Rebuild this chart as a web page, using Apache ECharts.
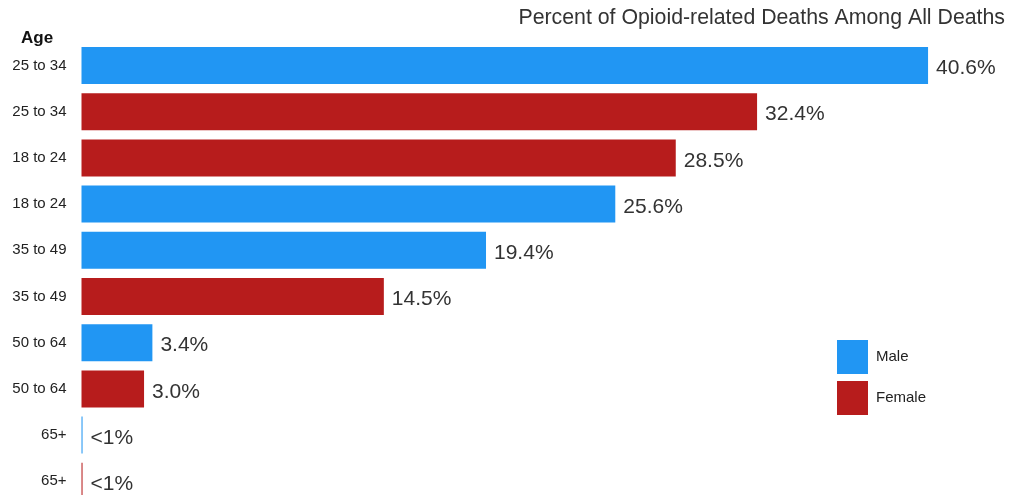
<!DOCTYPE html>
<html>
<head>
<meta charset="utf-8">
<script src="https://cdn.jsdelivr.net/npm/echarts@6/dist/echarts.min.js"></script>
<style>
html,body{margin:0;padding:0;background:#fff;}
#chart{width:1021px;height:495px;}
</style>
</head>
<body>
<div id="chart"></div>
<script>
const ages = ['25 to 34','25 to 34','18 to 24','18 to 24','35 to 49','35 to 49','50 to 64','50 to 64','65+','65+'];
const sexes = ['Male','Female','Female','Male','Male','Female','Male','Female','Male','Female'];
const values = [40.6, 32.4, 28.5, 25.6, 19.4, 14.5, 3.4, 3.0, 0.05, 0.05];
const valueLabels = ['40.6%','32.4%','28.5%','25.6%','19.4%','14.5%','3.4%','3.0%','<1%','<1%'];
const seriesNames = ['Male','Female'];
const colors = {Male:'#2196F3', Female:'#B71C1C'};

const chart = echarts.init(document.getElementById('chart'));
const series = seriesNames.map(name => ({
  name: name,
  type: 'bar',
  stack: 'all',
  barCategoryGap: '20%',
  itemStyle: {color: colors[name]},
  label: {
    show: true,
    position: 'right',
    distance: 8,
    offset: [0, 3],
    fontSize: 21,
    fontFamily: 'Liberation Sans, Arial, sans-serif',
    color: '#333',
    formatter: p => valueLabels[p.dataIndex]
  },
  data: values.map((v, i) => sexes[i] === name ? v : '-')
}));

chart.setOption({
  animation: false,
  textStyle: {fontFamily: 'Liberation Sans, Arial, sans-serif'},
  title: [
    {text: 'Percent of Opioid-related Deaths Among All Deaths', right: 11, top: 3,
     textStyle: {fontSize: 21.3, fontWeight: 'normal', color: '#333', fontFamily: 'Liberation Sans, Arial, sans-serif'}},
    {text: 'Age', left: 16, top: 25,
     textStyle: {fontSize: 17, fontWeight: 'bold', color: '#111', fontFamily: 'Liberation Sans, Arial, sans-serif'}}
  ],
  legend: {
    orient: 'vertical',
    left: 832, top: 335,
    itemWidth: 31, itemHeight: 34, itemGap: 7,
    icon: 'rect',
    textStyle: {fontSize: 15, color: '#222', padding: [0, 0, 0, 3]},
    data: seriesNames
  },
  grid: {left: 81.5, width: 938.3, top: 42.4, height: 462, containLabel: false, outerBoundsMode: 'none'},
  xAxis: {type: 'value', min: 0, max: 45, show: false},
  yAxis: {
    type: 'category',
    inverse: true,
    data: ages.map((a, i) => String(i)),
    axisLine: {show: false},
    axisTick: {show: false},
    splitLine: {show: false},
    axisLabel: {
      margin: 15,
      fontSize: 15,
      color: '#222',
      padding: [0, 0, 3, 0],
      formatter: v => ages[Number(v)]
    }
  },
  series: series
});
</script>
</body>
</html>
